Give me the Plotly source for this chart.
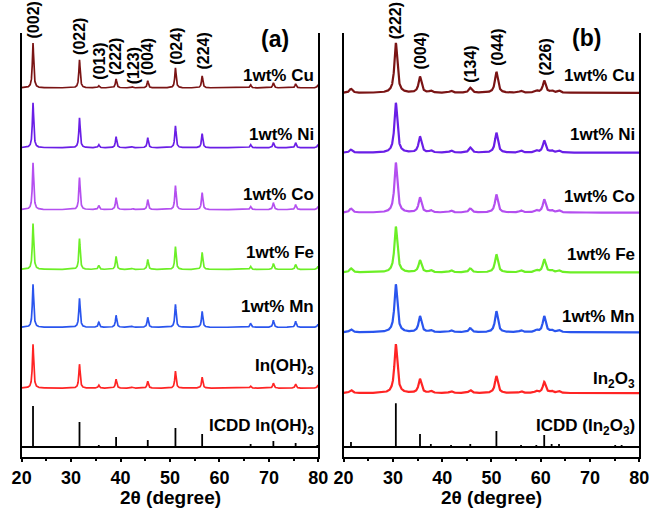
import numpy as np
import plotly.graph_objects as go

# ---------------- data ----------------
# Panel (a): In(OH)3 based samples
a_peaks = [22.3, 31.7, 35.6, 39.1, 42.4, 45.5, 51.1, 56.5, 66.3, 70.9, 75.4, 79.9]
a_names = ["1wt% Cu", "1wt% Ni", "1wt% Co", "1wt% Fe", "1wt% Mn", "In(OH)<sub>3</sub>"]
a_offsets = [370, 310, 248, 188, 130, 69]
a_heights = [
    [45, 28, 2, 9, 1, 7, 20, 12, 3, 5, 4, 3],
    [45, 30, 3, 11, 1, 10, 22, 14, 3, 5, 5, 3],
    [47, 32, 4, 12, 1, 10, 24, 17, 3, 7, 5, 3],
    [46, 31, 4, 13, 1, 10, 23, 17, 3, 6, 5, 3],
    [43, 29, 5, 12, 1, 10, 23, 16, 4, 7, 6, 3],
    [44, 24, 3, 9, 1, 7, 17, 11, 2, 5, 4, 3],
]
a_colors = ["#7a1414", "#6a1ee6", "#b44ff0", "#6cef26", "#2a55ee", "#ff2424"]
a_icdd_pos = [22.3, 31.7, 35.6, 39.1, 42.4, 45.5, 51.1, 56.5, 66.3, 70.9, 75.4, 79.8]
a_icdd_h = [41, 25, 2, 10, 1, 7, 19, 13, 3, 6, 4, 2]
a_hkl = ["(002)", "(022)", "(013)", "(222)", "(123)", "(004)", "(024)", "(224)"]
a_hkl_x = [22.3, 31.7, 35.7, 39.0, 42.5, 45.5, 51.3, 56.7]
a_hkl_y = [417, 401, 376, 381, 372, 381, 391, 386]
a_label_y = [382, 323, 263, 205, 151, 90]

# Panel (b): In2O3 based samples
b_peaks = [21.5, 30.6, 35.5, 37.7, 41.8, 45.7, 51.0, 56.0, 59.1, 60.7, 62.2, 63.7]
b_names = ["1wt% Cu", "1wt% Ni", "1wt% Co", "1wt% Fe", "1wt% Mn", "In<sub>2</sub>O<sub>3</sub>"]
b_offsets = [365, 305, 245, 185, 125, 64]
b_heights = [
    [4, 50, 16, 2, 2, 5, 21, 2, 2, 12, 2, 2],
    [3, 50, 16, 2, 2, 5, 20, 2, 2, 12, 2, 2],
    [4, 50, 15, 2, 2, 4, 18, 2, 2, 13, 2, 2],
    [4, 46, 12, 2, 2, 4, 18, 2, 2, 13, 2, 2],
    [3, 48, 16, 2, 2, 4, 21, 2, 2, 16, 2, 2],
    [3, 49, 14, 2, 2, 3, 17, 2, 2, 11, 2, 2],
]
b_colors = a_colors
b_icdd_pos = [21.5, 30.6, 33.1, 35.5, 37.7, 39.8, 41.8, 43.7, 45.7, 49.3, 51.0, 52.7,
              56.0, 57.6, 59.1, 60.7, 62.2, 63.7, 65.2, 66.6, 68.1, 69.5, 73.8, 75.1, 76.4, 77.6, 79.0]
b_icdd_h = [5, 44, 1, 13, 3, 1, 2, 1, 3, 1, 16, 1,
            2, 1, 2, 12, 3, 3, 1, 1, 1, 1, 1, 2, 2, 1, 1]
b_hkl = ["(222)", "(004)", "(134)", "(044)", "(226)"]
b_hkl_x = [30.6, 35.5, 45.7, 51.2, 60.9]
b_hkl_y = [417, 386, 373, 390, 380]
b_label_y = [382, 323, 261, 203, 141, 77]

x_ticks = [20, 30, 40, 50, 60, 70, 80]

# ---------------- helpers ----------------
xg = np.arange(20.0, 80.0001, 0.02)


def profile(pos, hts, fwhm, off):
    y = np.full_like(xg, float(off))
    for p, h in zip(pos, hts):
        y += h / (1.0 + ((xg - p) / (fwhm / 2.0)) ** 2)
    return y


def sticks(pos, hts, off):
    xs, ys = [20.0], [off]
    for p, h in zip(pos, hts):
        xs += [p, p, p]
        ys += [off, off + h, off]
    xs.append(80.0)
    ys.append(off)
    return xs, ys


fig = go.Figure()

for name, off, hts, col in zip(a_names, a_offsets, a_heights, a_colors):
    fig.add_trace(go.Scatter(x=xg, y=profile(a_peaks, hts, 0.32, off), mode="lines",
                             line=dict(color=col, width=1.7), xaxis="x", yaxis="y",
                             showlegend=False, hoverinfo="skip"))
sx, sy = sticks(a_icdd_pos, a_icdd_h, 10)
fig.add_trace(go.Scatter(x=sx, y=sy, mode="lines", line=dict(color="black", width=1.8),
                         xaxis="x", yaxis="y", showlegend=False, hoverinfo="skip"))

for name, off, hts, col in zip(b_names, b_offsets, b_heights, b_colors):
    fig.add_trace(go.Scatter(x=xg, y=profile(b_peaks, hts, 0.7, off), mode="lines",
                             line=dict(color=col, width=2.2), xaxis="x2", yaxis="y2",
                             showlegend=False, hoverinfo="skip"))
sx, sy = sticks(b_icdd_pos, b_icdd_h, 10)
fig.add_trace(go.Scatter(x=sx, y=sy, mode="lines", line=dict(color="black", width=1.8),
                         xaxis="x2", yaxis="y2", showlegend=False, hoverinfo="skip"))

FONT = "Liberation Sans, Arial, sans-serif"
ann = []


def txt(s, x, y, xr, yr, size, **kw):
    d = dict(text="<b>%s</b>" % s, x=x, y=y, xref=xr, yref=yr, showarrow=False,
             font=dict(family=FONT, size=size, color="black"))
    d.update(kw)
    ann.append(d)


for s, x, y in zip(a_hkl, a_hkl_x, a_hkl_y):
    txt(s, x, y, "x", "y", 16, textangle=-90, yanchor="bottom", xanchor="center")
for s, x, y in zip(b_hkl, b_hkl_x, b_hkl_y):
    txt(s, x, y, "x2", "y2", 16, textangle=-90, yanchor="bottom", xanchor="center")
for s, y in zip(a_names, a_label_y):
    txt(s, 79.5, y, "x", "y", 17, xanchor="right", yanchor="middle")
for s, y in zip(b_names, b_label_y):
    txt(s, 79.5, y, "x2", "y2", 17, xanchor="right", yanchor="middle")
txt("ICDD In(OH)<sub>3</sub>", 79.5, 30, "x", "y", 17, xanchor="right", yanchor="middle")
txt("ICDD (In<sub>2</sub>O<sub>3</sub>)", 79.5, 30, "x2", "y2", 17, xanchor="right", yanchor="middle")
txt("(a)", 71.2, 419, "x", "y", 23, xanchor="center", yanchor="middle")
txt("(b)", 69.3, 420, "x2", "y2", 23, xanchor="center", yanchor="middle")
# axis titles
for xr in ("x", "x2"):
    txt("2θ (degree)", 50, -0.004, xr, "paper", 19, xanchor="center", yanchor="bottom")

xax = dict(range=[20, 80], tickvals=x_ticks, ticks="outside", ticklen=3, tickwidth=2,
           tickcolor="black", showline=True, linewidth=2, linecolor="black",
           showgrid=False, zeroline=False,
           tickfont=dict(family=FONT, size=18, color="black", weight="bold"),
           minor=dict(dtick=5, ticks="outside", ticklen=2, tickwidth=1.5, tickcolor="black"))
yax = dict(range=[0, 425], domain=[1 - 457 / 508, 1 - 33 / 508], showline=True, mirror=True,
           linewidth=2, linecolor="black", showticklabels=False, ticks="",
           showgrid=False, zeroline=False)

fig.update_layout(
    width=661, height=508, margin=dict(l=0, r=0, t=0, b=0),
    paper_bgcolor="white", plot_bgcolor="white",
    xaxis=dict(xax, domain=[12 / 661, 318 / 661], anchor="y"),
    xaxis2=dict(xax, domain=[344 / 661, 649 / 661], anchor="y2"),
    yaxis=dict(yax, anchor="x"),
    yaxis2=dict(yax, anchor="x2"),
    annotations=ann,
)

fig.write_html("out.html")
